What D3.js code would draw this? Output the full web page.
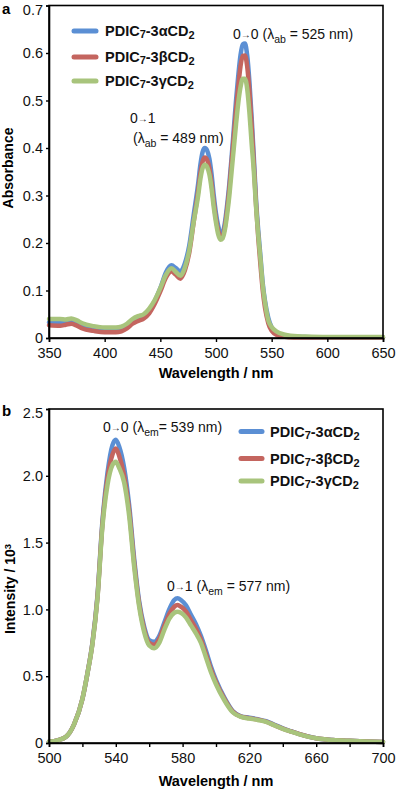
<!DOCTYPE html>
<html><head><meta charset="utf-8">
<script src="https://cdn.jsdelivr.net/npm/d3@7"></script>
<style>
body{margin:0;background:#fff;}
svg{display:block;font-family:Arial,"Liberation Sans",sans-serif;}
</style></head>
<body><svg id="c" width="401" height="789"></svg>
<script>
// ---------- Data (panel a: absorption) ----------
const absWl = [350,360,365,370,375,380,390,400,410,415,420,425,430,435,440,445,450,455,460,464,468,472,476,480,484,486,488,490,492,494,496,498,500,502,504,506,508,510,512,514,516,518,520,522,524,526,528,530,532,534,536,538,540,542,544,547,550,555,560,570,580,600,650];
const absAlpha = [.033,.032,.034,.036,.032,.026,.021,.018,.018,.020,.026,.035,.041,.046,.058,.078,.105,.138,.153,.147,.140,.157,.195,.26,.325,.365,.392,.40,.395,.378,.345,.30,.262,.236,.222,.224,.243,.28,.325,.38,.44,.50,.552,.595,.618,.62,.595,.54,.465,.38,.29,.225,.17,.115,.078,.042,.022,.010,.006,.003,.002,.001,.001];
const absBeta = [.027,.026,.028,.030,.026,.020,.015,.012,.012,.014,.020,.030,.036,.041,.052,.072,.098,.127,.140,.133,.125,.142,.18,.245,.31,.347,.372,.38,.375,.358,.326,.285,.25,.226,.213,.215,.234,.27,.315,.37,.425,.48,.53,.572,.594,.595,.572,.52,.448,.365,.28,.21,.152,.10,.064,.031,.015,.006,.003,.001,.001,.001,.001];
const absGamma = [.040,.040,.039,.041,.037,.031,.025,.022,.022,.024,.030,.040,.046,.050,.062,.080,.105,.133,.147,.139,.131,.148,.185,.245,.30,.335,.358,.365,.36,.345,.315,.275,.243,.218,.207,.21,.228,.26,.30,.35,.40,.45,.495,.528,.546,.546,.525,.475,.41,.35,.275,.215,.165,.11,.075,.037,.023,.013,.008,.004,.003,.002,.002];
const absXTicks = [350,400,450,500,550,600,650];
const absYTicks = [0,0.1,0.2,0.3,0.4,0.5,0.6,0.7];

// ---------- Data (panel b: emission) ----------
const emWl = [500,505,510,515,520,523,526,529,532,535,538,540,542,545,548,551,554,557,560,563,566,569,572,575,577,579,582,585,588,591,594,597,600,605,610,615,620,625,630,635,640,645,650,660,670,680,690,700];
const emAlpha = [.01,.02,.045,.14,.33,.52,.75,1.10,1.66,2.02,2.23,2.27,2.22,2.06,1.78,1.38,1.06,.87,.77,.758,.80,.90,1.0,1.07,1.083,1.07,1.03,.96,.89,.80,.69,.57,.47,.34,.24,.20,.19,.178,.163,.137,.11,.088,.067,.036,.022,.016,.012,.008];
const emBeta = [.01,.02,.045,.14,.33,.52,.745,1.09,1.64,1.98,2.16,2.205,2.15,2.0,1.74,1.35,1.04,.85,.75,.735,.78,.875,.965,1.02,1.033,1.02,.985,.92,.855,.775,.665,.55,.455,.33,.235,.197,.186,.175,.16,.133,.107,.086,.066,.035,.022,.016,.012,.008];
const emGamma = [.01,.02,.045,.14,.33,.52,.74,1.08,1.62,1.93,2.08,2.105,2.06,1.95,1.70,1.32,1.02,.83,.73,.71,.75,.845,.93,.975,.983,.975,.94,.88,.82,.75,.64,.53,.44,.32,.23,.195,.183,.172,.158,.132,.106,.085,.065,.035,.022,.016,.012,.008];
const emXTicks = [500,520,540,560,580,600,620,640,660,680,700];
const emXLabels = [500,540,580,620,660,700];
const emYTicks = [0,0.5,1.0,1.5,2.0,2.5];

const seriesNames = ["α","β","γ"];
const colors = ["#5b8fd4","#c4655f","#a8c47c"];

const svg = d3.select("#c");

function panel(opt){
  const g = svg.append("g");
  const x = d3.scaleLinear().domain(opt.xDomain).range([opt.left, opt.right]);
  const y = d3.scaleLinear().domain(opt.yDomain).range([opt.bottom, opt.top]);
  const line = d3.line().x(d=>x(d[0])).y(d=>y(d[1])).curve(d3.curveMonotoneX);
  opt.series.forEach((s,i)=>{
    g.append("path").datum(opt.wl.map((w,j)=>[w,s[j]]))
      .attr("d",line).attr("fill","none").attr("stroke",colors[i])
      .attr("stroke-width",4.5).attr("stroke-linejoin","round").attr("stroke-linecap","round");
  });
  g.append("rect").attr("x",opt.left).attr("y",opt.top)
    .attr("width",opt.right-opt.left).attr("height",opt.bottom-opt.top)
    .attr("fill","none").attr("stroke","#000").attr("stroke-width",1.6);
  const xa = g.append("g").attr("transform",`translate(0,${opt.bottom})`)
    .call(d3.axisBottom(x).tickValues(opt.xTicks).tickSize(4).tickPadding(6)
      .tickFormat(d=>opt.xLabels.includes(d)?d:""));
  const ya = g.append("g").attr("transform",`translate(${opt.left},0)`)
    .call(d3.axisLeft(y).tickValues(opt.yTicks).tickSize(3).tickPadding(3)
      .tickFormat(opt.yFmt));
  [xa,ya].forEach(a=>{
    a.select(".domain").attr("stroke-width",1.6);
    a.selectAll(".tick line").attr("stroke-width",1.4);
    a.selectAll("text").attr("font-size",14.5).attr("fill","#111")
      .attr("font-family","Arial,'Liberation Sans',sans-serif");
  });
  ya.selectAll(".tick text").filter(d=>d===opt.yDomain[1]).attr("dy","0.6em");
  g.append("text").attr("x",(opt.left+opt.right)/2).attr("y",opt.xTitleY)
    .attr("text-anchor","middle").attr("font-size",14.5).attr("font-weight","bold").text("Wavelength / nm");
  return {x,y,g};
}

// Panel a
panel({wl:absWl, series:[absAlpha,absBeta,absGamma], xDomain:[350,650], yDomain:[0,0.7],
  left:49,right:383,top:5.5,bottom:338, xTicks:absXTicks, xLabels:absXTicks, yTicks:absYTicks,
  yFmt:d=>d===0?"0":d3.format(".1f")(d), xTitleY:378});
svg.append("text").attr("transform","translate(13,168) rotate(-90)").attr("text-anchor","middle")
  .attr("font-size",14).attr("font-weight","bold").text("Absorbance");

// Panel b
panel({wl:emWl, series:[emAlpha,emBeta,emGamma], xDomain:[500,700], yDomain:[0,2.5],
  left:49,right:383,top:409,bottom:743, xTicks:emXTicks, xLabels:emXLabels, yTicks:emYTicks,
  yFmt:d=>d===0?"0":d3.format(".1f")(d), xTitleY:786});
const yt = svg.append("text").attr("transform","translate(15,589) rotate(-90)").attr("text-anchor","middle")
  .attr("font-size",14).attr("font-weight","bold");
yt.append("tspan").text("Intensity / 10");
yt.append("tspan").attr("dy",-4).attr("font-size",9.5).text("3");

// panel letters
svg.append("text").attr("x",2).attr("y",14).attr("font-size",15).attr("font-weight","bold").text("a");
svg.append("text").attr("x",2).attr("y",416).attr("font-size",15).attr("font-weight","bold").text("b");

// legends
function legend(x0, x1, tx, ys){
  seriesNames.forEach((n,i)=>{
    svg.append("line").attr("x1",x0).attr("x2",x1).attr("y1",ys[i]).attr("y2",ys[i])
      .attr("stroke",colors[i]).attr("stroke-width",5).attr("stroke-linecap","round");
    const t = svg.append("text").attr("x",tx).attr("y",ys[i]+5).attr("font-size",14.5).attr("font-weight","bold").attr("fill","#111");
    t.append("tspan").text("PDIC");
    t.append("tspan").attr("font-size",11).attr("dy",2).text("7");
    t.append("tspan").attr("dy",-2).text("-3"+n+"CD");
    t.append("tspan").attr("font-size",11).attr("dy",3).text("2");
  });
}
legend(74,96,105,[31,57,81]);
legend(241,262,270,[431.5,458.5,481]);

// annotations
function annot(x,y,a,b,pre,sub,post){
  const t = svg.append("text").attr("x",x).attr("y",y).attr("font-size",14).attr("fill","#111");
  if(a!==null){
    t.append("tspan").text(a);
    t.append("tspan").attr("font-size",10).attr("dy",-1).text("→");
    t.append("tspan").attr("dy",1).text(b);
  }
  if(pre) t.append("tspan").text(pre);
  if(sub){
    t.append("tspan").attr("font-size",10.5).attr("dy",4).text(sub);
    t.append("tspan").attr("dy",-4).text(post);
  }
  return t;
}
annot(233,39,"0","0"," (λ","ab"," = 525 nm)");
annot(130,123,"0","1");
annot(133,143,null,null,"(λ","ab"," = 489 nm)");
annot(103,432,"0","0"," (λ","em","= 539 nm)");
annot(167,591,"0","1"," (λ","em"," = 577 nm)");
</script></body></html>
